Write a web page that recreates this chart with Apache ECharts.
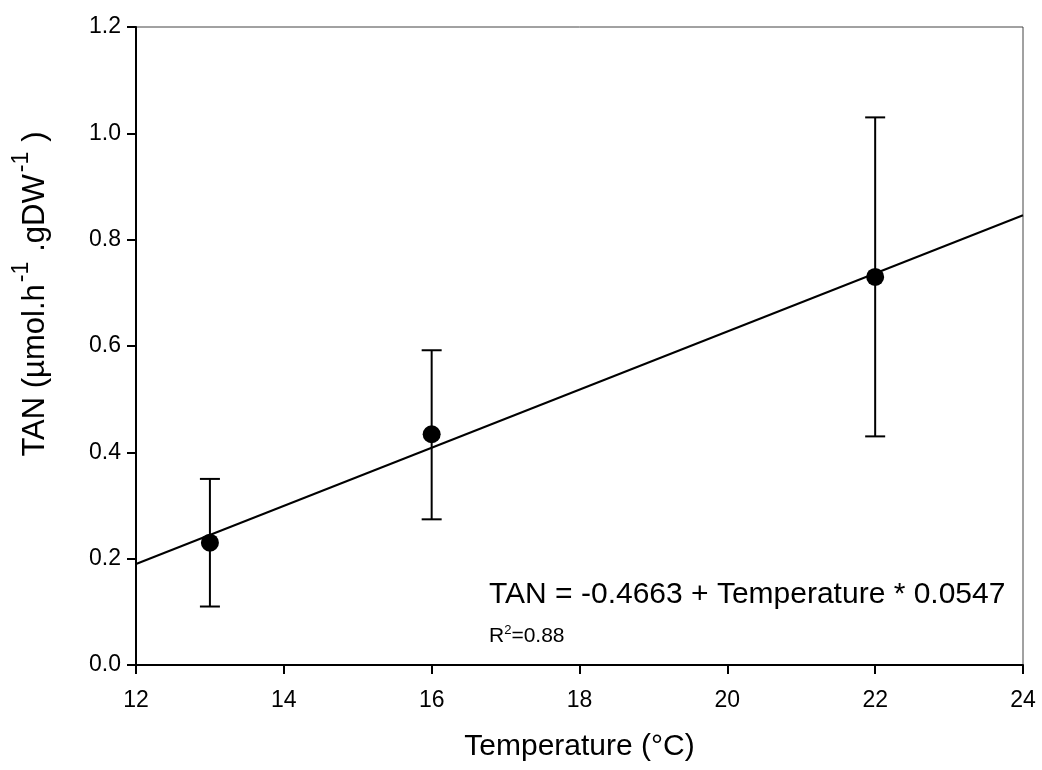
<!DOCTYPE html>
<html>
<head>
<meta charset="utf-8">
<script src="https://cdn.jsdelivr.net/npm/echarts@6/dist/echarts.min.js"></script>
<style>
  html, body { margin: 0; padding: 0; background: #fff; }
  #container { width: 1042px; height: 770px; }
</style>
</head>
<body>
<div id="container"></div>
<script>
var temperatures = [13, 16, 22];
var tanMeans = [0.23, 0.434, 0.73];
var tanLow = [0.11, 0.274, 0.43];
var tanHigh = [0.35, 0.592, 1.03];
var fitLine = [[12, 0.19], [24, 0.846]];

var dom = document.getElementById("container");
var myChart = echarts.init(dom);

var font = 'Liberation Sans, Arial, sans-serif';

var points = temperatures.map(function (t, i) { return [t, tanMeans[i]]; });
var bars = temperatures.map(function (t, i) { return [t, tanLow[i], tanHigh[i]]; });

var option = {
    backgroundColor: '#fff',
    animation: false,
    grid: {
        left: 136,
        right: 19,
        top: 27,
        bottom: 105,
        show: true,
        borderColor: '#444',
        borderWidth: 1
    },
    xAxis: {
        type: 'value',
        min: 12,
        max: 24,
        interval: 2,
        name: 'Temperature (°C)',
        nameLocation: 'middle',
        nameGap: 67,
        nameTextStyle: { fontFamily: font, fontSize: 30, color: '#000' },
        axisLine: { onZero: false, lineStyle: { color: '#000', width: 2 } },
        axisTick: { length: 9, lineStyle: { color: '#000', width: 2 } },
        axisLabel: { margin: 24, fontFamily: font, fontSize: 23, color: '#000' },
        splitLine: { show: false }
    },
    yAxis: {
        type: 'value',
        min: 0,
        max: 1.2,
        interval: 0.2,
        axisLine: { onZero: false, lineStyle: { color: '#000', width: 2 } },
        axisTick: { length: 9, lineStyle: { color: '#000', width: 2 } },
        axisLabel: {
            margin: 15,
            fontFamily: font,
            fontSize: 23,
            color: '#000',
            formatter: function (v) { return v.toFixed(1); }
        },
        splitLine: { show: false }
    },
    graphic: [
        {
            type: 'text',
            x: 35,
            y: 294,
            rotation: Math.PI / 2,
            style: {
                text: '{a|TAN (µmol.h}{s|-1}{a|.gDW}{s|-1}{a|)}',
                align: 'center',
                verticalAlign: 'middle',
                fill: '#000',
                rich: {
                    a: { fontFamily: font, fontSize: 31, lineHeight: 50, fill: '#000' },
                    s: { fontFamily: font, fontSize: 23, lineHeight: 23, verticalAlign: 'top', padding: [0, 10, 0, 2], fill: '#000' }
                }
            }
        },
        {
            type: 'text',
            left: 489,
            top: 580,
            style: {
                text: 'TAN = -0.4663 + Temperature * 0.0547',
                fontFamily: font,
                fontSize: 30,
                fill: '#000'
            }
        },
        {
            type: 'text',
            left: 489,
            top: 624,
            style: {
                text: '{a|R}{s|2}{a|=0.88}',
                fill: '#000',
                rich: {
                    a: { fontFamily: font, fontSize: 21, lineHeight: 24, fill: '#000' },
                    s: { fontFamily: font, fontSize: 13, lineHeight: 24, verticalAlign: 'top', padding: [0, 0, 8, 0], fill: '#000' }
                }
            }
        }
    ],
    series: [
        {
            name: 'Fit',
            type: 'line',
            data: fitLine,
            symbol: 'none',
            lineStyle: { color: '#000', width: 2 },
            z: 2
        },
        {
            name: 'Error',
            type: 'custom',
            data: bars,
            renderItem: function (params, api) {
                var x = api.value(0);
                var lo = api.coord([x, api.value(1)]);
                var hi = api.coord([x, api.value(2)]);
                var hw = 10;
                var style = { stroke: '#000', lineWidth: 2, fill: null };
                return {
                    type: 'group',
                    children: [
                        { type: 'line', shape: { x1: lo[0], y1: lo[1], x2: hi[0], y2: hi[1] }, style: style },
                        { type: 'line', shape: { x1: lo[0] - hw, y1: lo[1], x2: lo[0] + hw, y2: lo[1] }, style: style },
                        { type: 'line', shape: { x1: hi[0] - hw, y1: hi[1], x2: hi[0] + hw, y2: hi[1] }, style: style }
                    ]
                };
            },
            z: 3
        },
        {
            name: 'TAN',
            type: 'scatter',
            data: points,
            symbol: 'circle',
            symbolSize: 18,
            itemStyle: { color: '#000', opacity: 1 },
            z: 4
        }
    ]
};

if (option && typeof option === "object") {
    myChart.setOption(option, true);
}
</script>
</body>
</html>
